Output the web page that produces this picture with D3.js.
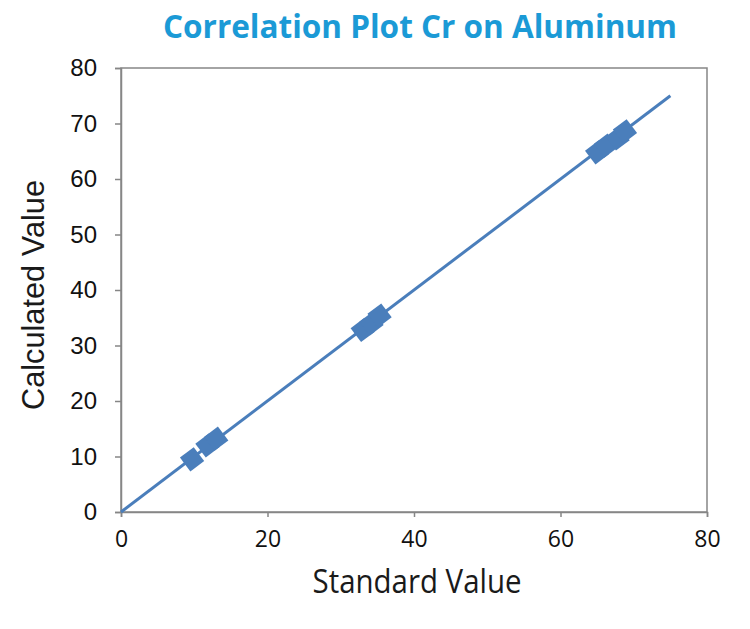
<!DOCTYPE html>
<html>
<head>
<meta charset="utf-8">
<script src="https://cdn.jsdelivr.net/npm/d3@7"></script>
<style>
  body { margin: 0; background: #fff; }
  svg { display: block; }
</style>
</head>
<body>
<svg width="750" height="629"></svg>
<script>
// data
const standardValues   = [9.7, 11.8, 13.0, 33.0, 34.2, 35.3, 65.0, 66.2, 67.8, 68.8];
const calculatedValues = [9.5, 12.0, 13.2, 32.8, 34.0, 35.4, 64.8, 66.0, 67.3, 68.6];
const fitLine = [[0, 0], [75, 75]];
const xTicks = [0, 20, 40, 60, 80];
const yTicks = [0, 10, 20, 30, 40, 50, 60, 70, 80];

const svg = d3.select('svg');

const margin = { top: 68, right: 43, bottom: 117, left: 121 };
const width = +svg.attr('width');
const height = +svg.attr('height');
const innerWidth = width - margin.left - margin.right;
const innerHeight = height - margin.top - margin.bottom;

const xScale = d3.scaleLinear().domain([0, 80]).range([0, innerWidth]);
const yScale = d3.scaleLinear().domain([0, 80]).range([innerHeight, 0]);

const axisColor = '#868686';
const blue = '#4a7ebb';

const g = svg.append('g')
    .attr('transform', `translate(${margin.left},${margin.top})`);

// box around the plot
g.append('rect')
    .attr('width', innerWidth)
    .attr('height', innerHeight)
    .attr('fill', 'none')
    .attr('stroke', axisColor)
    .attr('stroke-width', 1.5);

const xAxisG = g.append('g')
    .attr('transform', `translate(0,${innerHeight})`)
    .call(d3.axisBottom(xScale).tickValues(xTicks).tickSize(5).tickPadding(14));

xAxisG.selectAll('.domain, .tick line').attr('stroke', axisColor).attr('stroke-width', 1.5);
xAxisG.selectAll('.tick text')
    .attr('text-anchor', 'middle')
    .attr('font-family', '"Open Sans", sans-serif')
    .attr('font-size', 23)
    .attr('fill', '#111');

const yAxisG = g.append('g')
    .call(d3.axisLeft(yScale).tickValues(yTicks).tickSize(6).tickPadding(18));

yAxisG.selectAll('.domain, .tick line').attr('stroke', axisColor).attr('stroke-width', 1.5);
yAxisG.selectAll('.tick text')
    .attr('text-anchor', 'end')
    .attr('font-family', '"Liberation Sans", Arial, sans-serif')
    .attr('font-size', 24)
    .attr('fill', '#111');

// fit line
const line = d3.line()
    .x(d => xScale(d[0]))
    .y(d => yScale(d[1]));

g.append('path')
    .datum(fitLine)
    .attr('d', line)
    .attr('fill', 'none')
    .attr('stroke', blue)
    .attr('stroke-width', 3);

// markers, squares turned along the line
const angle = -Math.atan2(innerHeight, innerWidth) * 180 / Math.PI;
const points = standardValues.map((x, i) => ({ x, y: calculatedValues[i] }));

g.selectAll('.marker')
    .data(points)
    .enter()
    .append('path')
    .attr('class', 'marker')
    .attr('d', d3.symbol().type(d3.symbolSquare).size(300))
    .attr('transform', d => `translate(${xScale(d.x)},${yScale(d.y)}) rotate(${angle})`)
    .attr('fill', blue);

// title
svg.append('text')
    .attr('x', 420)
    .attr('y', 38)
    .attr('text-anchor', 'middle')
    .attr('font-family', '"Open Sans", sans-serif')
    .attr('font-weight', 'bold')
    .attr('font-size', 32)
    .attr('textLength', 514)
    .attr('lengthAdjust', 'spacingAndGlyphs')
    .attr('fill', '#1b9ad6')
    .text('Correlation Plot Cr on Aluminum');

// axis titles
svg.append('text')
    .attr('x', 417)
    .attr('y', 593)
    .attr('text-anchor', 'middle')
    .attr('font-family', '"Open Sans", sans-serif')
    .attr('font-size', 32)
    .attr('textLength', 209)
    .attr('lengthAdjust', 'spacingAndGlyphs')
    .attr('fill', '#1a1a1a')
    .text('Standard Value');

svg.append('text')
    .attr('transform', 'translate(44,295) rotate(-90)')
    .attr('text-anchor', 'middle')
    .attr('font-family', '"Liberation Sans", Arial, sans-serif')
    .attr('font-size', 32)
    .attr('textLength', 230)
    .attr('lengthAdjust', 'spacingAndGlyphs')
    .attr('fill', '#1a1a1a')
    .text('Calculated Value');
</script>
</body>
</html>
